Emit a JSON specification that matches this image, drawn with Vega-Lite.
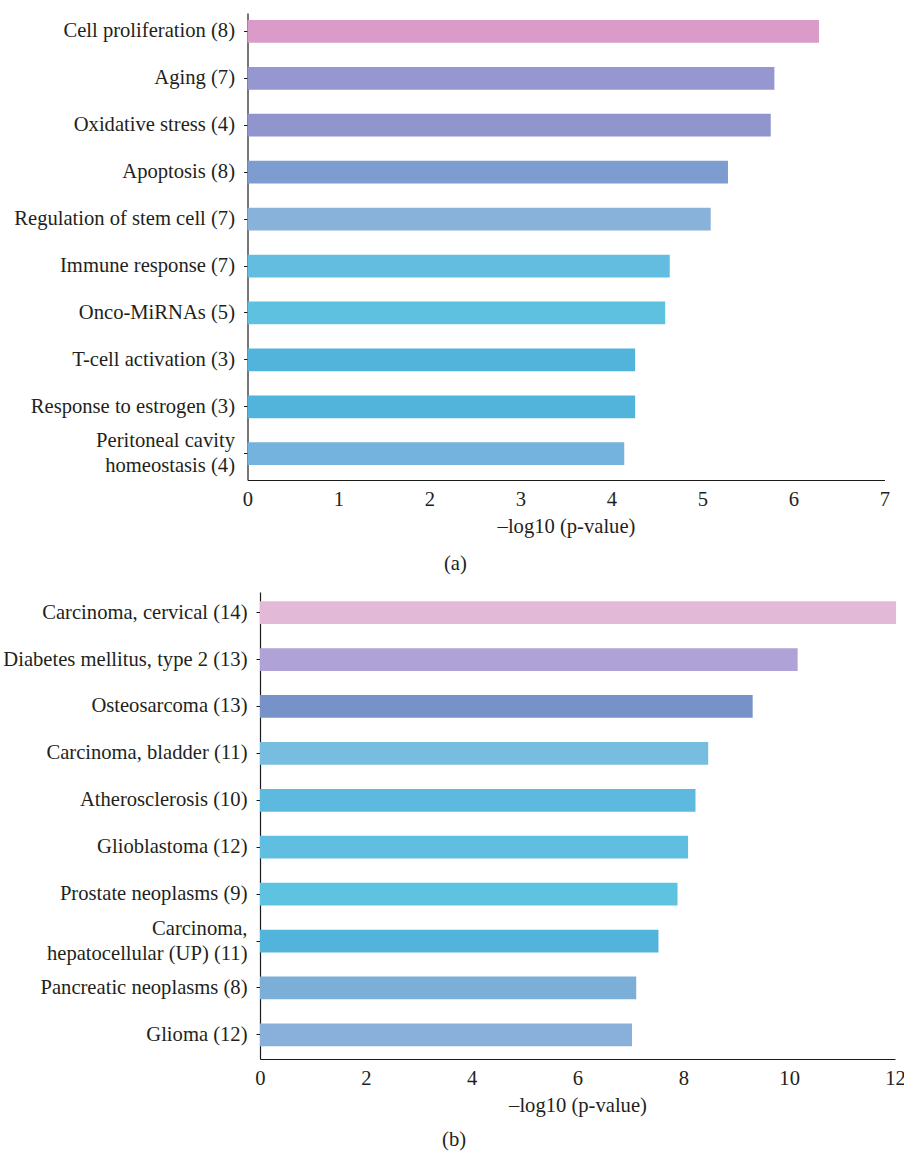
{
  "$schema": "https://vega.github.io/schema/vega-lite/v6.json",
  "padding": {"left": 2, "top": 13, "right": 2, "bottom": 0},
  "spacing": 17,
  "resolve": {"scale": {"color": "independent"}},
  "config": {
    "view": {"stroke": null},
    "font": "Liberation Serif",
    "axis": {
      "labelFont": "Liberation Serif",
      "titleFont": "Liberation Serif",
      "labelFontSize": 20.6,
      "titleFontSize": 20.6,
      "labelColor": "#231f20",
      "titleColor": "#231f20",
      "titleFontWeight": "normal",
      "domainColor": "#1a1a1a",
      "domainWidth": 1.2,
      "tickColor": "#1a1a1a",
      "grid": false
    },
    "axisX": {"ticks": false, "tickSize": 0, "labelPadding": 9, "titlePadding": 7, "labelFlush": false},
    "axisY": {"tickSize": 4, "labelPadding": 9, "labelLimit": 400, "title": null, "labelLineHeight": 25.5},
    "title": {"font": "Liberation Serif", "fontSize": 20.6, "fontWeight": "normal", "color": "#231f20"}
  },
  "vconcat": [
    {
      "width": 624.5,
      "height": 467,
      "title": {"text": "(a)", "orient": "bottom", "anchor": "middle", "frame": "bounds", "offset": 17},
      "data": {
        "values": [
          {"term": "Cell proliferation (8)", "score": 6.28},
          {"term": "Aging (7)", "score": 5.79},
          {"term": "Oxidative stress (4)", "score": 5.75},
          {"term": "Apoptosis (8)", "score": 5.28},
          {"term": "Regulation of stem cell (7)", "score": 5.09},
          {"term": "Immune response (7)", "score": 4.64},
          {"term": "Onco-MiRNAs (5)", "score": 4.59},
          {"term": "T-cell activation (3)", "score": 4.26},
          {"term": "Response to estrogen (3)", "score": 4.26},
          {"term": "Peritoneal cavity |homeostasis (4)", "score": 4.14}
        ]
      },
      "mark": {"type": "bar"},
      "encoding": {
        "y": {
          "field": "term",
          "type": "nominal",
          "sort": null,
          "scale": {"paddingInner": 0.515, "paddingOuter": 0.234, "align": 0.32},
          "axis": {
            "offset": 12.5,
            "labelExpr": "split(datum.label, '|')",
            "labelOffset": {"condition": {"test": "indexof(datum.value, '|') >= 0", "value": -12.8}, "value": 0}
          }
        },
        "x": {
          "field": "score",
          "type": "quantitative",
          "scale": {"domain": [0, 7], "nice": false, "range": [-12.5, 624.5]},
          "axis": {"values": [0, 1, 2, 3, 4, 5, 6, 7], "title": "–log10 (p-value)"}
        },
        "color": {
          "field": "term",
          "type": "nominal",
          "legend": null,
          "scale": {
            "domain": ["Cell proliferation (8)", "Aging (7)", "Oxidative stress (4)", "Apoptosis (8)", "Regulation of stem cell (7)", "Immune response (7)", "Onco-MiRNAs (5)", "T-cell activation (3)", "Response to estrogen (3)", "Peritoneal cavity |homeostasis (4)"],
            "range": ["#db9bc8", "#9696d0", "#9096cd", "#7d9cd0", "#88b2da", "#62bde0", "#5dc1df", "#52b4da", "#52b4da", "#73b3dd"]
          }
        }
      }
    },
    {
      "width": 635,
      "height": 467,
      "title": {"text": "(b)", "orient": "bottom", "anchor": "middle", "frame": "bounds", "offset": 14},
      "data": {
        "values": [
          {"term": "Carcinoma, cervical (14)", "score": 12.02},
          {"term": "Diabetes mellitus, type 2 (13)", "score": 10.16},
          {"term": "Osteosarcoma (13)", "score": 9.31},
          {"term": "Carcinoma, bladder (11)", "score": 8.47},
          {"term": "Atherosclerosis (10)", "score": 8.23},
          {"term": "Glioblastoma (12)", "score": 8.09},
          {"term": "Prostate neoplasms (9)", "score": 7.89},
          {"term": "Carcinoma, |hepatocellular (UP) (11)", "score": 7.53},
          {"term": "Pancreatic neoplasms (8)", "score": 7.11},
          {"term": "Glioma (12)", "score": 7.03}
        ]
      },
      "mark": {"type": "bar"},
      "encoding": {
        "y": {
          "field": "term",
          "type": "nominal",
          "sort": null,
          "scale": {"paddingInner": 0.515, "paddingOuter": 0.234, "align": 0.42},
          "axis": {
            "labelExpr": "split(datum.label, '|')",
            "labelOffset": {"condition": {"test": "indexof(datum.value, '|') >= 0", "value": -12.5}, "value": 0}
          }
        },
        "x": {
          "field": "score",
          "type": "quantitative",
          "scale": {"domain": [0, 12], "nice": false},
          "axis": {"values": [0, 2, 4, 6, 8, 10, 12], "title": "–log10 (p-value)"}
        },
        "color": {
          "field": "term",
          "type": "nominal",
          "legend": null,
          "scale": {
            "domain": ["Carcinoma, cervical (14)", "Diabetes mellitus, type 2 (13)", "Osteosarcoma (13)", "Carcinoma, bladder (11)", "Atherosclerosis (10)", "Glioblastoma (12)", "Prostate neoplasms (9)", "Carcinoma, |hepatocellular (UP) (11)", "Pancreatic neoplasms (8)", "Glioma (12)"],
            "range": ["#e2bad8", "#aea2d6", "#7791c9", "#76bde0", "#5eb9df", "#60bfe0", "#5ec3e0", "#52b4da", "#7bafd8", "#88b0da"]
          }
        }
      }
    }
  ]
}
